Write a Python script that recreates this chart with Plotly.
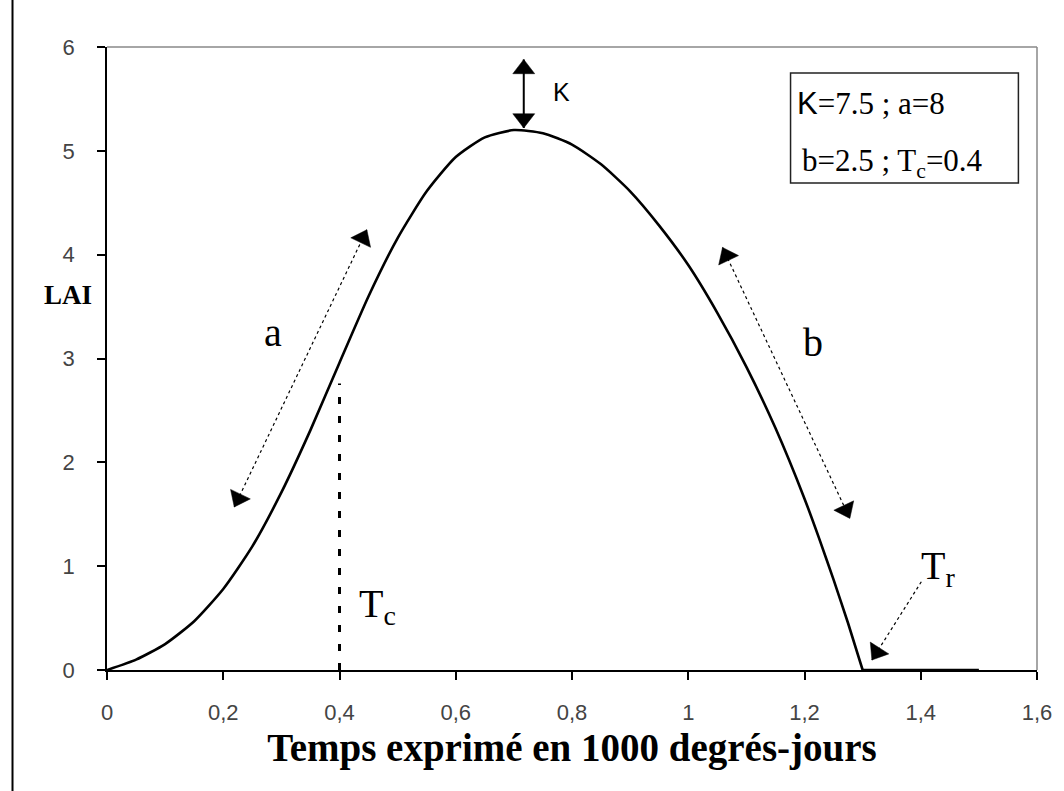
import math
import plotly.graph_objects as go

# ---- data ----
t_vals = [0.0, 0.05, 0.1, 0.15, 0.2, 0.25, 0.3, 0.35, 0.4, 0.45, 0.5, 0.55, 0.6, 0.65,
          0.7, 0.75, 0.8, 0.85, 0.9, 0.95, 1.0, 1.05, 1.1, 1.15, 1.2, 1.225, 1.25, 1.275,
          1.3, 1.35, 1.4, 1.45, 1.5]
lai_vals = [0.00, 0.10, 0.25, 0.47, 0.78, 1.19, 1.71, 2.31, 2.96, 3.60, 4.16, 4.61, 4.94, 5.13,
            5.20, 5.17, 5.06, 4.87, 4.61, 4.28, 3.90, 3.44, 2.92, 2.33, 1.65, 1.27, 0.87, 0.45,
            0.00, 0.00, 0.00, 0.00, 0.00]
t_senescence_end = 1.3   # Tr: the curve reaches zero here

x_tick_vals = [0, 0.2, 0.4, 0.6, 0.8, 1.0, 1.2, 1.4, 1.6]
x_tick_text = ["0", "0,2", "0,4", "0,6", "0,8", "1", "1,2", "1,4", "1,6"]
y_tick_vals = [0, 1, 2, 3, 4, 5, 6]
y_tick_text = ["0", "1", "2", "3", "4", "5", "6"]

tc_line_x = [0.4, 0.4]
tc_line_y = [0.0, 2.76]

a_arrow_x = [0.219, 0.447]
a_arrow_y = [1.57, 4.24]
b_arrow_x = [1.059, 1.278]
b_arrow_y = [4.07, 1.46]
k_arrow_x = [0.717, 0.717]
k_arrow_y = [5.88, 5.22]
tr_arrow_x = [1.401, 1.316]   # tail, head
tr_arrow_y = [0.85, 0.096]

box_x = [1.176, 1.568]
box_y = [4.69, 5.75]

# ---- layout geometry ----
W, H = 1064, 791
ML, MR, MT, MB = 107, 22, 47, 121
X_RANGE = [0, 1.6]
Y_RANGE = [0, 6]
PW = W - ML - MR
PH = H - MT - MB
PX = PW / (X_RANGE[1] - X_RANGE[0])
PY = PH / (Y_RANGE[1] - Y_RANGE[0])

SERIF = "Liberation Serif, Times New Roman, serif"
SANS = "Liberation Sans, Arial, sans-serif"

fig = go.Figure()

# main curve: growth/senescence part (smooth) and the zero tail
n_main = t_vals.index(t_senescence_end) + 1
fig.add_trace(go.Scatter(x=t_vals[:n_main], y=lai_vals[:n_main], mode="lines",
                         line=dict(color="black", width=2.6, shape="spline", smoothing=0.6),
                         hoverinfo="skip"))
fig.add_trace(go.Scatter(x=t_vals[n_main - 1:], y=lai_vals[n_main - 1:], mode="lines",
                         line=dict(color="black", width=2.6), hoverinfo="skip"))

# Tc dotted line
fig.add_trace(go.Scatter(x=tc_line_x, y=tc_line_y, mode="lines",
                         line=dict(color="black", width=3, dash="7px,12px"), hoverinfo="skip"))

# arrow shafts
for xs, ys, dash, w in [(a_arrow_x, a_arrow_y, "dot", 1.2),
                        (b_arrow_x, b_arrow_y, "dot", 1.2),
                        (tr_arrow_x, tr_arrow_y, "dot", 1.2),
                        (k_arrow_x, k_arrow_y, "solid", 2)]:
    fig.add_trace(go.Scatter(x=xs, y=ys, mode="lines",
                             line=dict(color="black", width=w, dash=dash), hoverinfo="skip"))


def head(tip_x, tip_y, from_x, from_y, size):
    dx = (tip_x - from_x) * PX
    dy = (tip_y - from_y) * PY
    L = math.hypot(dx, dy)
    ux, uy = dx / L, dy / L
    ang = math.degrees(math.atan2(dx, dy))
    r = size / 2.0
    cx = tip_x - ux * r / PX
    cy = tip_y - uy * r / PY
    return cx, cy, ang


hx, hy, ha, hs = [], [], [], []
for xs, ys, both, size in [(a_arrow_x, a_arrow_y, True, 19),
                           (b_arrow_x, b_arrow_y, True, 19),
                           (k_arrow_x, k_arrow_y, True, 19),
                           (tr_arrow_x, tr_arrow_y, False, 19)]:
    c = head(xs[1], ys[1], xs[0], ys[0], size)
    hx.append(c[0]); hy.append(c[1]); ha.append(c[2]); hs.append(size)
    if both:
        c = head(xs[0], ys[0], xs[1], ys[1], size)
        hx.append(c[0]); hy.append(c[1]); ha.append(c[2]); hs.append(size)

fig.add_trace(go.Scatter(x=hx, y=hy, mode="markers",
                         marker=dict(symbol="triangle-up", size=hs, angle=ha,
                                     color="black", opacity=1,
                                     line=dict(width=0.5, color="black")),
                         hoverinfo="skip"))

# parameter box
fig.add_shape(type="rect", xref="x", yref="y", x0=box_x[0], x1=box_x[1], y0=box_y[0], y1=box_y[1],
              line=dict(color="#222", width=1.5), fillcolor="white", layer="below")

# frame top & right (grey), left page border
fig.add_shape(type="line", xref="paper", yref="paper", x0=0, x1=1, y0=1, y1=1,
              line=dict(color="#888", width=1.5))
fig.add_shape(type="line", xref="paper", yref="paper", x0=1, x1=1, y0=0, y1=1,
              line=dict(color="#888", width=1.5))
fig.add_shape(type="line", xref="paper", yref="paper",
              x0=(12 - ML) / PW, x1=(12 - ML) / PW, y0=-(MB + 5) / PH, y1=(PH + MT + 5) / PH,
              line=dict(color="black", width=2))

annos = [
    dict(x=0.286, y=3.25, text="a", font=dict(family=SERIF, size=40)),
    dict(x=1.215, y=3.15, text="b", font=dict(family=SERIF, size=40)),
    dict(x=0.782, y=5.57, text="K", font=dict(family=SANS, size=25)),
    dict(x=0.466, y=0.62, text="T<sub>c</sub>", font=dict(family=SERIF, size=40)),
    dict(x=1.43, y=0.98, text="T<sub>r</sub>", font=dict(family=SERIF, size=40)),
    dict(x=1.183, y=5.46, xanchor="left",
         text="<span style='font-family:Liberation Sans'>K</span>=7.5 ; a=8",
         font=dict(family=SERIF, size=31)),
    dict(x=1.192, y=4.88, xanchor="left",
         text="b=2.5 ; T<sub>c</sub>=0.4", font=dict(family=SERIF, size=31)),
    dict(x=(42 - ML) / PW, y=(670 - 295) / PH, xref="paper", yref="paper",
         text="<b>LAI</b>", font=dict(family=SERIF, size=27)),
]
for a in annos:
    base = dict(xref="x", yref="y", showarrow=False)
    base.update(a)
    base["font"] = dict(color="black", **a["font"])
    fig.add_annotation(**base)

fig.update_layout(
    width=W, height=H,
    margin=dict(l=ML, r=MR, t=MT, b=MB),
    paper_bgcolor="white", plot_bgcolor="white",
    showlegend=False,
    xaxis=dict(range=X_RANGE, tickvals=x_tick_vals, ticktext=x_tick_text,
               showgrid=False, zeroline=False, showline=True, linecolor="black", linewidth=1.5,
               ticks="outside", ticklen=8, tickcolor="black", tickwidth=1.5,
               tickfont=dict(family=SANS, size=22, color="#444"), ticklabelstandoff=14,
               title=dict(text="<b>Temps exprimé en 1000 degrés-jours</b>",
                          font=dict(family=SERIF, size=39, color="black"), standoff=10)),
    yaxis=dict(range=Y_RANGE, tickvals=y_tick_vals, ticktext=y_tick_text,
               showgrid=False, zeroline=False, showline=True, linecolor="black", linewidth=1.5,
               ticks="outside", ticklen=8, tickcolor="black", tickwidth=1.5,
               tickfont=dict(family=SANS, size=22, color="#444"), ticklabelstandoff=18),
)

fig.write_html("out.html")
